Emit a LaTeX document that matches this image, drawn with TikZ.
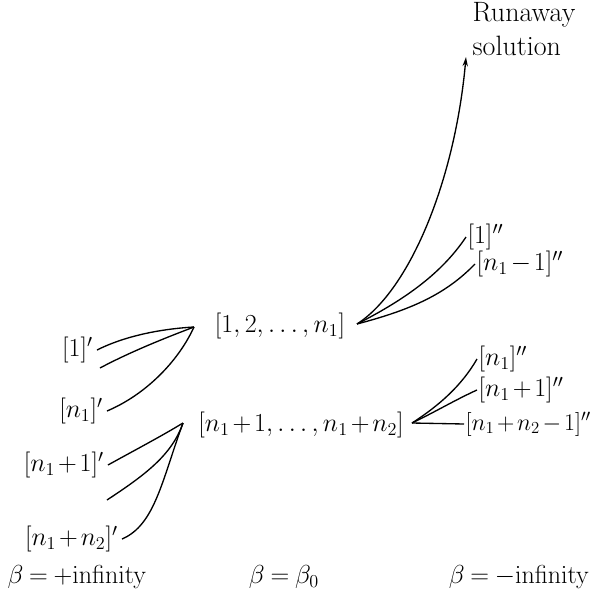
\documentclass[tikz,border=0pt]{standalone}
\usepackage{fix-cm}
\usetikzlibrary{arrows.meta}
\AtBeginDocument{\medmuskip=2mu\relax\thickmuskip=4mu\relax}
\begin{document}
\begin{tikzpicture}[x=0.75pt,y=-0.75pt,
  every node/.style={font=\fontsize{19.5}{23}\selectfont},
  lft/.style={anchor=east,inner sep=3pt},
  rgt/.style={anchor=west,inner sep=1pt},
  main/.style={inner sep=2pt},
  conn/.style={line width=1pt},
  foot/.style={inner sep=0pt}]
\useasboundingbox (0,0) rectangle (599,600);
% main nodes
\node[main] (A) at (280,326) {$[1,2,\ldots,n_1]$};
\node[main] (B) at (301,425) {$[n_1+1,\ldots,n_1+n_2]$};
\coordinate (P1) at (194,327);
\coordinate (P2) at (183,423);
\coordinate (P3) at (357,324);
\coordinate (P4) at (412,423);
% left labels
\node[lft] (L1) at (97,350) {$[1]'$};
\coordinate (L2) at (100,368);
\node[lft] (L3) at (107,411) {$[n_1]'$};
\node[lft] (L4) at (108,465) {$[n_1+1]'$};
\coordinate (L5) at (107,500);
\node[lft] (L6) at (122,539) {$[n_1+n_2]'$};
% right labels
\node[rgt] (R1) at (466,237) {$[1]''$};
\node[rgt] (R2) at (475,264) {$[n_1-1]''$};
\node[rgt] (R3) at (477,359) {$[n_1]''$};
\node[rgt] (R4) at (477,390) {$[n_1+1]''$};
\node[rgt,font=\fontsize{18}{21}\selectfont] (R5) at (464,424) {$[n_1+n_2-1]''$};
\node[align=left,inner sep=0pt,font=\fontsize{21}{25}\selectfont] (RS) at (524,29) {Runaway\\solution};
\coordinate (tip) at (466,57);
% bottom labels
\node[foot] (F1) at (77,577) {$\beta=+\mathrm{infinity}$};
\node[foot] (F2) at (284,577) {$\beta=\beta_0$};
\node[foot] (F3) at (519,577) {$\beta=-\mathrm{infinity}$};
% connectors left top
\draw[conn] (L1.east) .. controls (125,336) and (160,329) .. (P1);
\draw[conn] (L2) .. controls (130,352) and (165,338) .. (P1);
\draw[conn] (L3.east) .. controls (145,395) and (178,362) .. (P1);
% connectors left bottom
\draw[conn] (L4.east) .. controls (135,450) and (160,437) .. (P2);
\draw[conn] (L5) .. controls (145,475) and (172,455) .. (P2);
\draw[conn] (L6.east) .. controls (155,525) and (162,480) .. (P2);
% connectors right top
\draw[conn,-{Stealth[length=7pt,width=4pt]}] (P3) .. controls (410,290) and (455,180) .. (tip);
\draw[conn] (P3) .. controls (400,302) and (440,276) .. (R1.west);
\draw[conn] (P3) .. controls (410,310) and (445,295) .. (R2.west);
% connectors right bottom
\draw[conn] (P4) .. controls (440,405) and (462,385) .. (R3.west);
\draw[conn] (P4) .. controls (435,412) and (455,400) .. (R4.west);
\draw[conn] (P4) -- (R5.west);
\end{tikzpicture}
\end{document}
